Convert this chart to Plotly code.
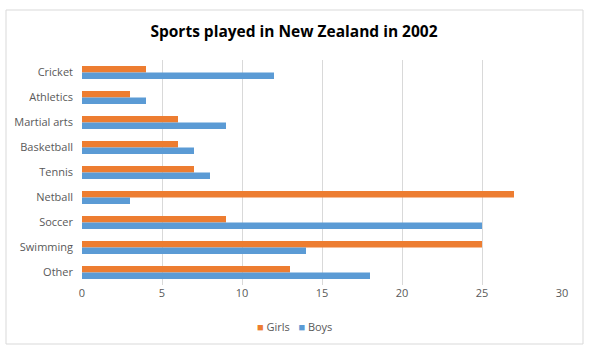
import plotly.graph_objects as go

categories = ["Cricket", "Athletics", "Martial arts", "Basketball", "Tennis",
              "Netball", "Soccer", "Swimming", "Other"]
girls = [4, 3, 6, 6, 7, 27, 9, 25, 13]
boys = [12, 4, 9, 7, 8, 3, 25, 14, 18]
x_ticks = [0, 5, 10, 15, 20, 25, 30]
series_names = ["Girls", "Boys"]
series_colors = ["#ED7D31", "#5B9BD5"]

fig = go.Figure()
for name, vals, col in zip(series_names, [girls, boys], series_colors):
    fig.add_trace(go.Bar(y=categories, x=vals, name=name, orientation="h",
                         marker=dict(color=col, line=dict(width=0))))

font_family = "Open Sans, Liberation Sans, sans-serif"

legend_text = "&nbsp;&nbsp;&nbsp;".join(
    f"<span style='color:{c}'>■</span> {n}" for n, c in zip(series_names, series_colors))

fig.update_layout(
    width=595, height=355,
    margin=dict(l=82, r=33, t=60, b=70, autoexpand=False),
    paper_bgcolor="white", plot_bgcolor="white",
    barmode="group", bargap=0.48, bargroupgap=0,
    showlegend=False,
    title=dict(text="<b>Sports played in New Zealand in 2002</b>",
               x=294 / 595, xanchor="center", xref="container",
               y=1 - 32 / 355, yanchor="middle",
               font=dict(family=font_family, size=15.5, color="#000000")),
    font=dict(family=font_family, size=11, color="#595959"),
    xaxis=dict(range=[0, 30], tickvals=x_ticks, showgrid=True, gridcolor="#d9d9d9",
               gridwidth=1, zeroline=False, showline=False, ticks="",
               tickfont=dict(size=11, color="#595959"), automargin=False),
    yaxis=dict(autorange="reversed", showgrid=False, zeroline=False, showline=False,
               ticks="", ticklabelstandoff=8, tickfont=dict(size=11, color="#595959"),
               automargin=False),
    annotations=[dict(text=legend_text, xref="paper", yref="paper",
                      x=(294 - 82) / 480, y=(285 - 326) / 225,
                      xanchor="center", yanchor="middle", showarrow=False,
                      font=dict(size=11, color="#595959", family=font_family))],
    shapes=[dict(type="rect", xref="paper", yref="paper",
                 x0=(6 - 82) / 480, x1=(583 - 82) / 480,
                 y0=(285 - 344) / 225, y1=(285 - 10) / 225,
                 line=dict(color="#d9d9d9", width=1), fillcolor="rgba(0,0,0,0)",
                 layer="below")],
)

fig.write_html("out.html",
               config={"displayModeBar": False},
               post_script="document.body.style.margin='0';document.body.style.overflow='hidden';")
